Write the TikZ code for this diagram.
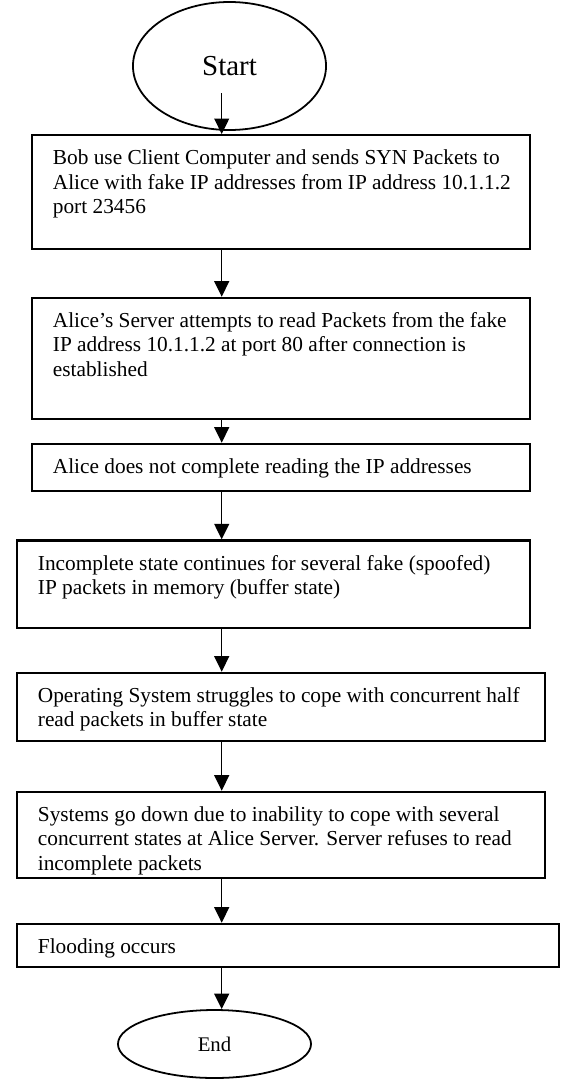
\documentclass[tikz,border=0pt]{standalone}
\usepackage{fontspec}
\setmainfont{Liberation Serif}[Ligatures=CommonOff]
\usepackage{tikz}
\usetikzlibrary{arrows.meta,shapes.geometric}

\newlength{\pxunit}
\setlength{\pxunit}{0.5625pt}
\newcommand{\boxtext}[3]{\parbox[t][#2\pxunit][t]{#1\pxunit}{%
  \leftskip=20.7\pxunit \rightskip=0pt plus 1fil
  \vspace*{12.6\pxunit}\strut #3}}

\tikzset{
  stepbox/.style={draw,line width=1.35pt,inner sep=0pt,anchor=north west,
                  font=\fontsize{12}{13.7}\selectfont},
  terminal/.style={draw,ellipse,line width=1pt,inner sep=0pt,
                   minimum width=108.6pt}
}

\begin{document}
\begin{tikzpicture}[->,>={Triangle[length=8.7pt,width=8.4pt]},line width=0.75pt,
                    x=0.5625pt,y=-0.5625pt]

\useasboundingbox (0,0) rectangle (561,1080);

\node[terminal,minimum height=72pt,font=\fontsize{16.3}{19}\selectfont] (start) at(229.5,66) {Start};
\coordinate (startout) at(221.7,93);

\node[stepbox] (bob) at(31,134) {\boxtext{498}{114}{Bob use Client Computer and sends SYN Packets to\\
  Alice with fake IP addresses from IP address 10.1.1.2\\port 23456}};
\node[stepbox] (serverread) at(31,296.7) {\boxtext{498}{121.3}{Alice’s Server attempts to read Packets from the fake\\
  IP address 10.1.1.2 at port 80 after connection is\\established}};
\node[stepbox] (noread) at(31,442.7) {\boxtext{498}{47.3}{Alice does not complete reading the IP addresses}};
\node[stepbox] (halfstate) at(16,539.3) {\boxtext{513}{87.3}{Incomplete state continues for several fake (spoofed)\\
  IP packets in memory (buffer state)}};
\node[stepbox] (oscope) at(16,671.7) {\boxtext{528}{68.3}{Operating System struggles to cope with concurrent half\\
  read packets in buffer state}};
\node[stepbox] (sysdown) at(16,790.7) {\boxtext{528}{86}{Systems go down due to inability to cope with several\\
  concurrent states at Alice Server. Server refuses to read\\incomplete packets}};
\node[stepbox] (flood) at(16,922.7) {\boxtext{542}{43.3}{Flooding occurs}};

\node[terminal,minimum height=38.25pt,font=\fontsize{11.7}{14}\selectfont] (end) at(214.5,1044) {End};

\path (startout) edge (bob.north -| startout)
      (bob.south -| startout) edge (serverread.north -| startout)
      (serverread.south -| startout) edge (noread.north -| startout)
      (noread.south -| startout) edge (halfstate.north -| startout)
      (halfstate.south -| startout) edge (oscope.north -| startout)
      (oscope.south -| startout) edge (sysdown.north -| startout)
      (sysdown.south -| startout) edge (flood.north -| startout)
      (flood.south -| startout) edge (end.north -| startout);
\end{tikzpicture}
\end{document}
